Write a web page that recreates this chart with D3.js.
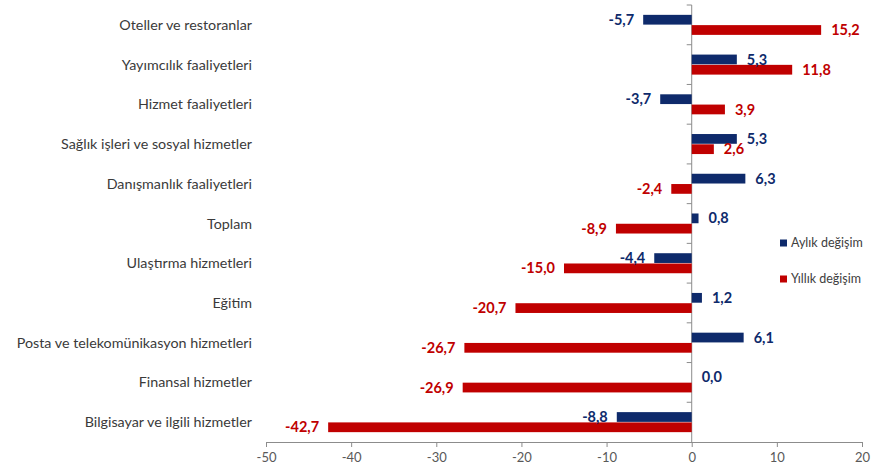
<!DOCTYPE html>
<html>
<head>
<meta charset="utf-8">
<script src="https://cdn.jsdelivr.net/npm/d3@7"></script>
<style>
  body { margin: 0; background: #fff; }
  svg text { font-family: Lato, "Open Sans", sans-serif; }
</style>
</head>
<body>
<svg id="chart" width="882" height="469"></svg>
<script>
// Categories, top to bottom
const categories = [
  "Oteller ve restoranlar",
  "Yayımcılık faaliyetleri",
  "Hizmet faaliyetleri",
  "Sağlık işleri ve sosyal hizmetler",
  "Danışmanlık faaliyetleri",
  "Toplam",
  "Ulaştırma hizmetleri",
  "Eğitim",
  "Posta ve telekomünikasyon hizmetleri",
  "Finansal hizmetler",
  "Bilgisayar ve ilgili hizmetler"
]
const monthly = [-5.7, 5.3, -3.7, 5.3, 6.3, 0.8, -4.4, 1.2, 6.1, 0.0, -8.8]
const yearly = [15.2, 11.8, 3.9, 2.6, -2.4, -8.9, -15.0, -20.7, -26.7, -26.9, -42.7]
const seriesNames = ["Aylık değişim", "Yıllık değişim"]
const xTicks = [-50, -40, -30, -20, -10, 0, 10, 20]

const colors = ["#0e2a6b", "#c00000"]
const svg = d3.select('#chart')

const x = d3.scaleLinear().domain([-50, 20]).range([266, 862])
const y = d3.scaleBand().domain(categories).range([5, 442]).paddingInner(0.47).paddingOuter(0.235)
const inner = d3.scaleBand().domain([0, 1]).range([0, y.bandwidth()]).padding(0.05)

const fmt = v => v.toFixed(1).replace('.', ',')

// X axis
const xAxis = svg.append('g')
  .attr('transform', 'translate(0,442)')
  .call(d3.axisBottom(x).tickValues(xTicks).tickSize(5).tickPadding(6).tickFormat(d => d))
xAxis.select('.domain').attr('stroke', '#8c8c8c')
xAxis.selectAll('.tick line').attr('stroke', '#8c8c8c')
xAxis.selectAll('.tick text').attr('fill', '#595959').style('font-size', '13px')

// Y axis at zero with ticks at band boundaries
const yLine = svg.append('g')
yLine.append('line')
  .attr('x1', x(0)).attr('x2', x(0))
  .attr('y1', 5).attr('y2', 442)
  .attr('stroke', '#8c8c8c')
const step = y.step()
yLine.selectAll('line.tk')
  .data(d3.range(categories.length))
  .join('line')
  .attr('class', 'tk')
  .attr('x1', x(0) - 5).attr('x2', x(0))
  .attr('y1', i => 5 + i * step).attr('y2', i => 5 + i * step)
  .attr('stroke', '#8c8c8c')

// Category labels
svg.append('g').selectAll('text')
  .data(categories)
  .join('text')
  .attr('x', 252)
  .attr('y', d => y(d) + y.bandwidth() / 2)
  .attr('dy', '0.35em')
  .attr('text-anchor', 'end')
  .attr('fill', '#3a3a3a')
  .style('font-size', '14.3px')
  .text(d => d)

const rows = categories.map((c, i) => ({ c, vals: [monthly[i], yearly[i]] }))

const groups = svg.append('g').selectAll('g')
  .data(rows)
  .join('g')
  .attr('transform', d => `translate(0,${y(d.c)})`)

groups.selectAll('rect')
  .data(d => d.vals.map((v, s) => ({ v, s })))
  .join('rect')
  .attr('x', d => x(Math.min(0, d.v)))
  .attr('width', d => Math.abs(x(d.v) - x(0)))
  .attr('y', d => inner(d.s))
  .attr('height', inner.bandwidth())
  .attr('fill', d => colors[d.s])

groups.selectAll('text')
  .data(d => d.vals.map((v, s) => ({ v, s })))
  .join('text')
  .attr('x', d => d.v < 0 ? x(d.v) - 9 : x(d.v) + 10)
  .attr('y', d => inner(d.s) + inner.bandwidth() / 2)
  .attr('dy', '0.35em')
  .attr('text-anchor', d => d.v < 0 ? 'end' : 'start')
  .attr('fill', d => colors[d.s])
  .style('font-size', '14.5px')
  .style('font-weight', 'bold')
  .text(d => fmt(d.v))

// Legend
const legend = svg.append('g').selectAll('g')
  .data(seriesNames)
  .join('g')
  .attr('transform', (d, i) => `translate(780,${243 + i * 36})`)
legend.append('rect')
  .attr('x', 0).attr('y', -3.5)
  .attr('width', 7).attr('height', 7)
  .attr('fill', (d, i) => colors[i])
legend.append('text')
  .attr('x', 11).attr('dy', '0.35em')
  .attr('fill', '#404040')
  .style('font-size', '12.5px')
  .text(d => d)
</script>
</body>
</html>
